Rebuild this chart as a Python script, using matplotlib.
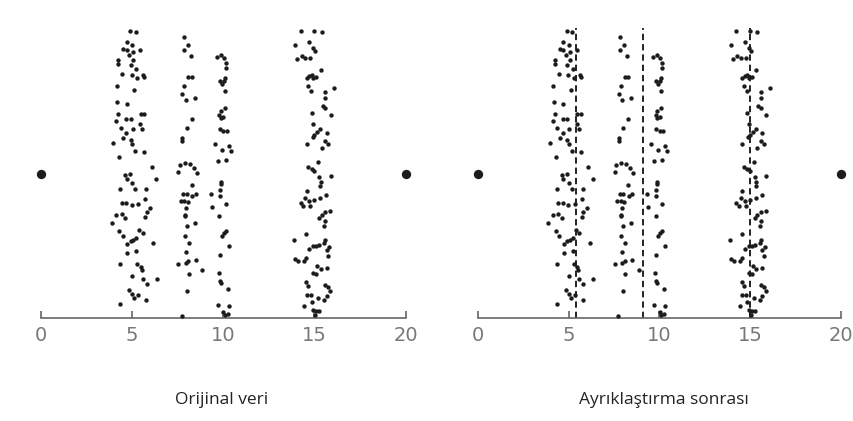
import numpy as np
import matplotlib.pyplot as plt

# points, one strip at a time (y is on a 0-100 scale)
strip5_x = [4.89, 5.20, 4.71, 5.02, 4.53, 4.71, 5.08, 5.44, 4.86, 4.25, 4.25, 5.08, 4.93, 5.22,
            4.47, 4.98, 5.30, 5.62, 5.68, 4.16, 5.13, 4.20, 4.71, 4.25, 4.13, 4.67, 4.93, 5.48,
            5.66, 5.44, 5.57, 4.38, 4.67, 5.04, 4.53, 4.93, 5.02, 3.98, 5.17, 5.66, 4.31, 6.08,
            4.62, 4.89, 4.71, 5.02, 6.32, 4.35, 5.17, 5.77, 4.44, 4.67, 4.98, 5.35, 5.72, 6.00,
            5.81, 4.13, 4.44, 4.62, 5.72, 3.89, 4.31, 4.49, 5.40, 5.59, 4.75, 4.93, 5.08, 5.22,
            6.17, 4.75, 5.22, 4.35, 5.30, 5.48, 5.53, 5.02, 5.59, 6.35, 5.81, 4.86, 5.02, 5.35,
            5.11, 5.77, 4.35]
strip5_y = [99.8, 99.5, 96.1, 95.1, 93.7, 93.3, 92.6, 93.2, 91.7, 89.9, 88.4, 89.9, 87.9, 86.8,
            84.9, 84.7, 83.5, 84.7, 83.8, 80.6, 79.5, 75.2, 74.5, 71.0, 68.5, 69.3, 69.3, 71.0,
            71.0, 67.6, 65.9, 66.1, 64.4, 65.6, 62.7, 62.1, 60.6, 60.9, 58.0, 57.8, 56.0, 52.5,
            49.9, 50.2, 48.4, 47.0, 48.4, 44.9, 44.9, 44.9, 40.0, 40.0, 39.4, 39.8, 41.4, 38.3,
            36.8, 36.0, 36.3, 34.8, 35.1, 33.0, 30.1, 28.4, 30.5, 29.6, 25.9, 26.9, 27.2, 27.8,
            26.1, 22.6, 23.2, 18.9, 18.9, 17.7, 16.6, 14.7, 13.6, 13.6, 11.9, 9.6, 8.4, 8.1,
            6.9, 6.4, 5.0]

strip8_x = [7.85, 8.05, 7.85, 8.22, 8.09, 8.27, 7.87, 7.76, 7.94, 8.45, 8.27, 8.00, 7.76, 7.76,
            7.63, 7.91, 8.18, 8.40, 8.55, 7.54, 8.27, 7.81, 7.99, 8.31, 8.51, 7.69, 7.87, 8.05,
            7.94, 7.91, 7.91, 8.00, 8.45, 7.91, 8.12, 7.94, 7.54, 7.94, 8.09, 8.49, 8.86, 8.12,
            8.00, 7.72]
strip8_y = [97.7, 95.1, 93.4, 91.3, 83.9, 83.9, 80.6, 78.0, 75.8, 76.6, 69.4, 66.1, 62.7, 61.5,
            53.4, 53.9, 53.7, 52.2, 50.5, 50.7, 46.4, 43.2, 43.2, 42.3, 43.2, 40.6, 40.6, 40.2,
            38.3, 35.9, 35.4, 31.9, 33.0, 28.4, 26.1, 22.8, 18.9, 19.1, 19.7, 20.3, 16.8, 15.4,
            9.3, 0.8]

strip10_x = [9.64, 9.88, 10.06, 10.15, 10.15, 10.10, 10.06, 9.82, 9.91, 10.10, 10.10, 9.88,
             9.79, 9.86, 10.01, 9.82, 10.01, 10.19, 9.55, 9.95, 10.33, 10.41, 9.73, 10.15,
             9.88, 9.88, 9.31, 9.82, 9.82, 10.13, 9.40, 9.79, 9.91, 10.06, 10.15, 10.33,
             9.82, 9.77, 9.82, 9.88, 10.28, 9.73, 10.33, 10.01, 10.10, 10.24]
strip10_y = [90.7, 91.4, 90.5, 88.8, 87.0, 83.5, 82.6, 82.4, 81.5, 79.1, 73.1, 71.9,
             70.8, 69.6, 69.9, 65.9, 65.2, 65.0, 60.6, 58.3, 59.8, 58.0, 54.5, 55.1,
             47.5, 46.7, 43.2, 44.6, 42.6, 39.8, 38.8, 35.4, 28.6, 29.6, 30.1, 25.2,
             22.0, 15.6, 12.7, 12.2, 10.1, 4.6, 4.3, 2.0, 1.1, 1.5]

strip15_x = [14.24, 14.99, 15.39, 13.93, 14.72, 14.94, 15.03, 14.06, 14.30, 14.48, 14.75, 15.34,
             14.57, 14.72, 14.84, 14.94, 15.08, 14.66, 14.81, 15.58, 16.09, 15.58, 15.45, 15.58,
             14.84, 15.89, 14.94, 15.30, 15.16, 14.97, 14.90, 15.67, 15.58, 15.76, 14.57, 15.39,
             15.21, 14.66, 14.84, 14.97,
             15.26, 15.34, 15.30, 15.89, 14.57, 14.48, 14.24, 14.39, 14.75, 14.99, 15.30, 15.63,
             14.72, 15.39, 15.58, 15.85, 15.26, 15.58, 15.52, 14.53, 13.88, 15.58, 15.52, 14.72,
             14.94, 15.08, 15.26, 15.67, 15.81, 13.93, 14.11, 14.53, 14.43, 15.76, 15.16, 15.34,
             15.67, 14.94, 15.08, 14.53, 14.66, 15.58, 15.76, 15.85, 15.67, 15.52, 14.57, 14.79,
             15.21, 14.84, 14.43, 14.94, 15.08, 15.26, 15.03]
strip15_y = [99.8, 100.0, 99.5, 95.1, 96.1, 94.0, 92.8, 90.3, 91.1, 90.5, 90.5, 86.4,
             83.5, 84.1, 84.5, 83.5, 83.8, 80.6, 79.1, 78.7, 80.1, 76.4, 73.7, 73.1,
             71.4, 70.8, 67.5, 65.9, 64.8, 63.6, 62.9, 64.4, 61.5, 60.6, 60.6, 59.0,
             54.3, 52.5, 52.0, 51.3,
             49.0, 47.5, 46.0, 49.5, 44.1, 41.7, 40.0, 39.1, 39.1, 41.2, 41.7, 42.9,
             40.6, 35.9, 36.8, 37.1, 34.8, 33.6, 31.9, 29.3, 27.2, 27.2, 26.1, 24.0,
             24.9, 25.2, 25.5, 23.8, 24.7, 20.5, 20.0, 20.9, 19.7, 21.7, 18.0, 17.0,
             17.4, 15.6, 15.4, 12.4, 11.0, 11.6, 10.8, 9.3, 7.5, 6.4, 8.1, 8.1,
             6.9, 5.4, 4.0, 2.9, 2.3, 2.3, 1.1]

end_x = [0, 20]
end_y = [50, 50]
cut_points = [5.4, 9.1, 15.0]
ticks = [0, 5, 10, 15, 20]
captions = ["Orijinal veri", "Ayrıklaştırma sonrası"]

all_x = np.concatenate([strip5_x, strip8_x, strip10_x, strip15_x])
all_y = np.concatenate([strip5_y, strip8_y, strip10_y, strip15_y])


def draw_panel(ax, cuts):
    ax.scatter(all_x, all_y, s=10, color="#1c1c1c", linewidths=0, zorder=3)
    ax.scatter(end_x, end_y, s=45, color="#1c1c1c", linewidths=0, zorder=3)
    for c in cuts:
        ax.vlines(c, 0, 101, colors="#111111", linewidth=1.3,
                  linestyles=(0, (3.5, 2.2)), zorder=2)

    ax.set_xlim(-1.5, 21.5)
    ax.set_ylim(0, 105)
    for side in ["top", "right", "left"]:
        ax.spines[side].set_visible(False)
    ax.spines["bottom"].set_bounds(0, 20)
    ax.spines["bottom"].set_color("#666666")
    ax.spines["bottom"].set_linewidth(1.2)
    ax.set_yticks([])
    ax.set_xticks(ticks)
    ax.tick_params(axis="x", direction="in", length=5, width=1.2, color="#666666",
                   labelsize=14, labelcolor="#787878", pad=6)
    for lab in ax.get_xticklabels():
        lab.set_family(["Liberation Sans Narrow", "DejaVu Sans"])


fig = plt.figure(figsize=(8.54, 4.21), dpi=100)
ax1 = fig.add_axes([0.0156, 0.2447, 0.4915, 0.7166])
ax2 = fig.add_axes([0.5277, 0.2447, 0.4888, 0.7166])

draw_panel(ax1, [])
draw_panel(ax2, cut_points)

fig.text(0.26, 0.05, captions[0], ha="center", va="center", fontsize=12.5,
         family="Open Sans", color="#222222")
fig.text(0.777, 0.05, captions[1], ha="center", va="center", fontsize=12.5,
         family="Open Sans", color="#222222")

fig.savefig("out.png", dpi=100)
